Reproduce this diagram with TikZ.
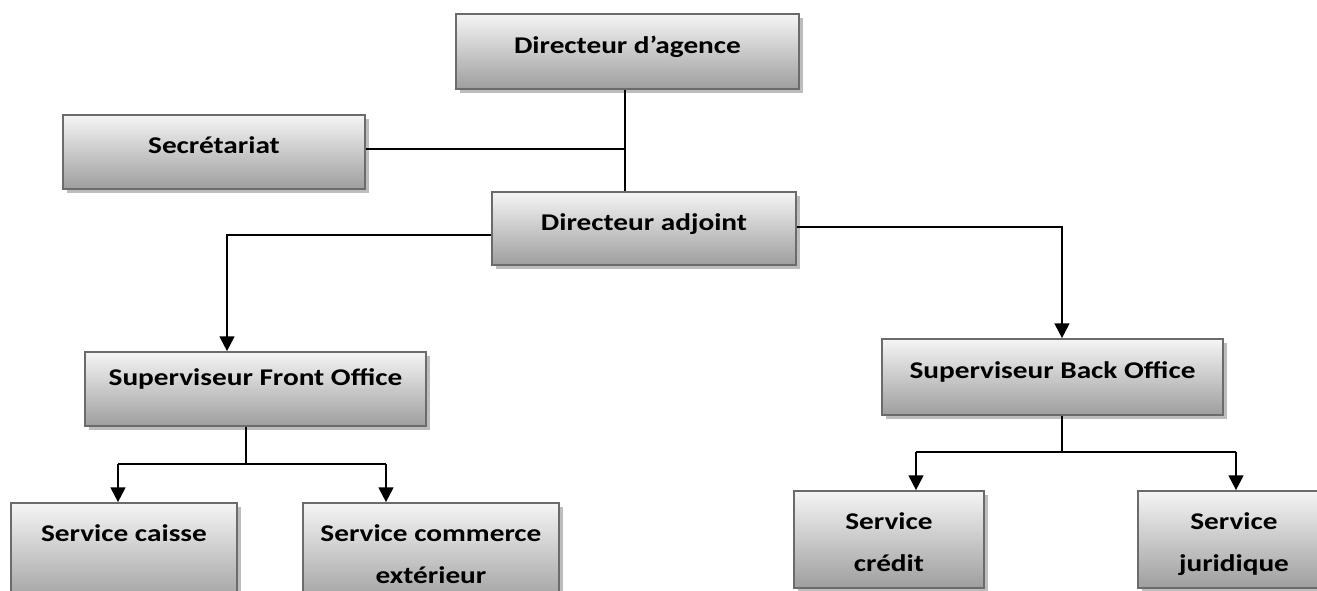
\documentclass[tikz,border=0pt]{standalone}
\usepackage{fontspec}
\setmainfont{Carlito}[FakeStretch=1.22]
\usetikzlibrary{fit,shadows,arrows.meta}
\tikzset{
  orgbox/.style={draw=black!58, line width=1.3pt, inner sep=0pt,
    top color=black!4, bottom color=black!38,
    drop shadow={shadow xshift=3pt, shadow yshift=-3pt, fill=black!26, opacity=1}},
  lbl/.style={font=\bfseries\fontsize{18}{31.5}\selectfont, align=center, inner sep=0pt, anchor=base},
  link/.style={line width=1.6pt, black},
  arr/.style={link, -{Triangle[width=11pt,length=11pt]}}
}
% #6 = baseline of the last text line
\newcommand\orgbox[7]{%
  \node[orgbox, fit={(#2,#3)(#4,#5)}] (#1) {};
  \node[lbl] (#1t) at (#1.center |- 0,#6) {#7};
}
\begin{document}
\begin{tikzpicture}[x=0.75pt,y=-0.75pt]
\useasboundingbox (0,0) rectangle (1317,590);
\fill[white] (0,0) rectangle (1317,590);
\clip (0,0) rectangle (1317,590);
% boxes
\orgbox{agence}{456}{14}{799}{89}{53}{Directeur d’agence}
\orgbox{secr}{63}{115}{365}{189}{153}{Secrétariat}
\orgbox{adj}{492}{192}{796}{265}{230}{Directeur adjoint}
\orgbox{sfo}{85}{352}{426}{426}{385}{Superviseur Front Office}
\orgbox{sbo}{882}{339}{1223}{415}{378}{Superviseur Back Office}
\orgbox{caisse}{11}{503}{237}{605}{541}{Service caisse}
\orgbox{comm}{303}{503}{559}{605}{583}{Service commerce\\extérieur}
\orgbox{credit}{794}{491}{984}{588}{571}{Service\\crédit}
\orgbox{jur}{1138}{491}{1330}{588}{571}{Service\\juridique}
% junction coordinates
\coordinate (j1) at (625,149);
\coordinate (jl) at (227,235);
\coordinate (jr) at (1062,227);
\coordinate (jf) at (246,464);
\coordinate (jb) at (1062,452);
\coordinate (fl) at (118,464);
\coordinate (fr) at (386,464);
\coordinate (bl) at (916,452);
\coordinate (br) at (1236,452);
% connectors
\draw[link] (agence.south -| j1) -- (adj.north -| j1);
\draw[link] (secr.east |- j1) -- (j1);
\draw[arr] (adj.west |- jl) -- (jl) -- (jl |- sfo.north);
\draw[arr] (adj.east |- jr) -- (jr) -- (jr |- sbo.north);
\draw[link] (sfo.south -| jf) -- (jf);
\draw[link] (fl) -- (fr);
\draw[arr] (fl) -- (fl |- caisse.north);
\draw[arr] (fr) -- (fr |- comm.north);
\draw[link] (sbo.south -| jb) -- (jb);
\draw[link] (bl) -- (br);
\draw[arr] (bl) -- (bl |- credit.north);
\draw[arr] (br) -- (br |- jur.north);
\end{tikzpicture}
\end{document}
